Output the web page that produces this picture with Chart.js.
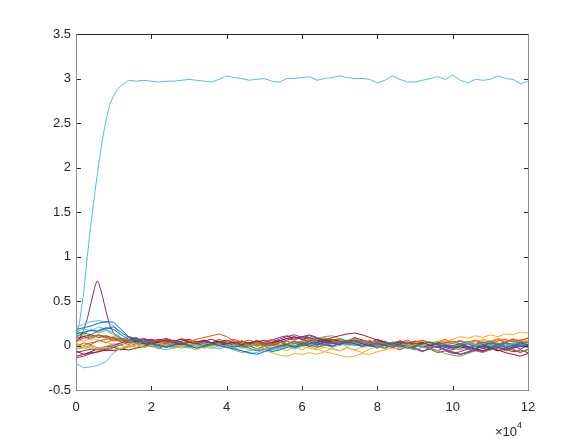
<!DOCTYPE html>
<html>
<head>
<meta charset="utf-8">
<script src="https://cdn.jsdelivr.net/npm/chart.js@4/dist/chart.umd.min.js"></script>
<style>
  html, body { margin: 0; padding: 0; background: #fff; }
  #wrap { width: 585px; height: 439px; }
</style>
</head>
<body>
<div id="wrap"><canvas id="grafica"></canvas></div>
<script>
// x in units of 1e4 (axis shows "x10^4")
const xs = [0,0.2,0.4,0.6,0.8,1,1.2,1.4,1.6,1.8,2,2.2,2.4,2.6,2.8,3,3.2,3.4,3.6,3.8,4,
  4.2,4.4,4.6,4.8,5,5.2,5.4,5.6,5.8,6,6.2,6.4,6.6,6.8,7,7.2,7.4,7.6,7.8,8,
  8.2,8.4,8.6,8.8,9,9.2,9.4,9.6,9.8,10,10.2,10.4,10.6,10.8,11,11.2,11.4,11.6,11.8,12];

const xTicks = [0, 2, 4, 6, 8, 10, 12];
const yTicks = [-0.5, 0, 0.5, 1, 1.5, 2, 2.5, 3, 3.5];

// rising line (light blue)
const rampX = [0,0.1,0.2,0.3,0.4,0.5,0.6,0.7,0.8,0.9,1,1.1,1.2,1.3,1.4];
const rampY = [0.05,0.28,0.58,1.0,1.38,1.72,2.03,2.31,2.54,2.71,2.81,2.88,2.92,2.95,2.98];
const topY = [2.97,2.98,2.97,2.96,2.97,2.97,2.98,2.99,2.98,2.97,
  2.96,2.99,3.03,3.01,3.00,2.98,2.99,3.00,2.97,2.96,
  3.00,3.00,3.01,3.02,2.98,3.00,3.01,3.03,3.01,3.00,
  3.00,2.99,2.95,2.98,3.03,2.99,2.96,2.96,2.98,3.00,
  3.02,2.99,3.04,2.98,2.95,2.99,2.98,2.99,3.03,3.00,
  2.99,2.94,2.97]; // xs from 1.6

// purple line with the early bump
const bumpX = [0,0.1,0.2,0.3,0.4,0.5,0.55,0.6,0.7,0.8,0.9,1,1.1,1.2];
const bumpY = [0.03,0.08,0.17,0.30,0.48,0.66,0.72,0.71,0.56,0.38,0.22,0.14,0.10,0.08];
const bumpLate = [0.06,0.04,0.07,0.05,
  0.02,0.04,0.01,0.03,0.00,0.02,0.05,0.03,0.01,-0.01,
  0.02,0.00,0.03,0.01,0.04,0.06,0.09,0.11,0.08,0.10,
  0.12,0.09,0.06,0.04,0.02,0.05,0.03,0.06,0.04,0.01,
  0.03,0.00,0.02,-0.01,0.01,0.03,0.00,-0.02,-0.05,-0.08,
  -0.10,-0.07,-0.04,-0.06,-0.03,-0.01,-0.04,-0.02,0.01,-0.01]; // xs from 1.4

// lines around zero
const azul1 = [0.18,0.20,0.22,0.25,0.27,0.26, 0.18,0.10,0.06,0.03,0.02,
  0.00,-0.02,0.01,0.03,0.00,-0.03,-0.01,0.02,0.00,-0.02,
  -0.04,-0.06,-0.08,-0.10,-0.07,-0.03,-0.01,0.01,-0.02,0.00,
  0.02,0.04,0.01,-0.01,0.03,0.06,0.05,0.02,0.00,-0.02,
  0.01,0.03,0.00,-0.03,-0.01,0.02,0.04,0.01,-0.02,0.00,
  0.02,-0.01,-0.03,0.00,0.03,0.01,-0.02,0.00,0.02,0.01];
const naranja1 = [0.05,0.08,0.10,0.12,0.10,0.08, 0.05,0.06,0.03,0.05,0.04,
  0.06,0.03,0.05,0.02,0.04,0.07,0.09,0.11,0.13,0.10,
  0.05,0.03,0.01,0.04,0.02,0.00,0.03,0.05,0.02,0.04,
  0.01,-0.02,0.00,0.03,0.05,0.02,0.04,0.06,0.03,0.01,
  0.04,0.02,0.05,0.03,0.00,0.02,0.04,0.01,0.03,0.05,
  0.02,0.04,0.06,0.03,0.05,0.02,0.04,0.07,0.05,0.03];
const amarillo1 = [0.02,-0.01,-0.03,-0.04,-0.02,-0.05, -0.03,-0.01,0.01,-0.02,0.00,
  0.02,0.04,0.01,-0.01,0.02,0.00,-0.03,-0.01,0.01,-0.02,
  -0.04,-0.02,-0.05,-0.03,-0.06,-0.08,-0.11,-0.12,-0.09,-0.10,
  -0.08,-0.10,-0.07,-0.09,-0.11,-0.13,-0.12,-0.09,-0.10,-0.07,
  -0.05,-0.03,-0.04,-0.01,0.01,0.00,0.03,0.05,0.04,0.07,
  0.10,0.08,0.11,0.09,0.12,0.10,0.13,0.12,0.15,0.14];
const morado1 = [-0.08,-0.06,-0.04,-0.05,-0.02,0.00, 0.03,0.06,0.08,0.05,0.07,
  0.04,0.06,0.03,0.01,0.04,0.02,0.05,0.03,0.00,0.02,
  0.04,0.01,0.03,0.05,0.02,0.04,0.07,0.10,0.12,0.09,
  0.11,0.08,0.05,0.03,0.01,0.04,0.02,-0.01,0.01,0.03,
  0.00,-0.02,0.01,-0.01,0.02,0.00,-0.03,-0.01,-0.04,-0.07,
  -0.10,-0.08,-0.05,-0.07,-0.04,-0.02,-0.05,-0.03,0.00,-0.02];
const verde1 = [0.10,0.12,0.09,0.11,0.08,0.10, 0.06,0.04,0.02,0.04,0.01,
  -0.01,0.02,0.00,-0.03,-0.01,0.01,-0.02,0.00,0.02,-0.01,
  0.01,0.03,0.00,0.02,-0.01,0.01,0.04,0.02,0.05,0.03,
  0.06,0.08,0.10,0.11,0.07,0.05,0.08,0.04,0.02,0.00,
  -0.02,0.01,-0.01,-0.03,-0.05,-0.02,-0.04,-0.06,-0.09,-0.11,
  -0.12,-0.09,-0.06,-0.08,-0.05,-0.03,-0.06,-0.04,-0.07,-0.05];
const celeste1 = [-0.20,-0.25,-0.24,-0.22,-0.18,-0.08, -0.03,-0.01,0.01,-0.02,0.00,
  -0.03,-0.05,-0.02,0.00,-0.03,-0.01,0.01,-0.02,-0.04,-0.01,
  -0.03,-0.06,-0.09,-0.08,-0.05,-0.02,-0.04,-0.01,-0.03,0.00,
  0.02,-0.01,0.01,-0.02,0.00,0.03,0.01,-0.01,0.02,0.04,
  0.01,0.03,0.00,-0.02,0.01,-0.01,-0.03,0.00,0.02,-0.01,
  0.01,0.03,0.00,0.02,0.04,0.01,-0.01,0.02,0.00,0.02];
const rojo1 = [-0.12,-0.10,-0.08,-0.07,-0.05,-0.06, -0.04,-0.05,-0.03,-0.01,0.02,
  0.04,0.06,0.03,0.05,0.07,0.04,0.06,0.03,0.05,0.02,
  0.04,0.01,0.03,0.05,0.02,0.00,0.03,0.06,0.09,0.07,
  0.05,0.08,0.06,0.09,0.11,0.13,0.14,0.12,0.09,0.06,
  0.04,0.02,0.05,0.03,0.01,0.03,0.00,-0.02,0.01,-0.01,
  -0.03,-0.01,-0.04,-0.06,-0.03,-0.05,-0.08,-0.10,-0.12,-0.09];
const azul2 = [0.13,0.15,0.17,0.16,0.19,0.21, 0.15,0.09,0.05,0.02,-0.01,
  0.01,-0.02,0.00,0.02,-0.01,-0.03,0.00,0.02,0.04,0.01,
  -0.02,0.00,-0.03,-0.06,-0.04,-0.07,-0.05,-0.02,0.00,0.02,
  -0.01,0.01,0.04,0.02,0.05,0.03,0.00,0.02,-0.01,0.01,
  0.03,0.00,0.02,0.04,0.01,-0.02,0.00,0.03,0.01,-0.02,
  0.00,0.02,-0.01,0.01,-0.02,0.00,0.03,0.01,-0.01,0.00];
const naranja2 = [0.02,0.00,0.03,0.05,0.07,0.09, 0.07,0.10,0.08,0.05,0.07,
  0.04,0.02,0.05,0.03,0.01,0.04,0.02,0.00,0.03,0.05,
  0.07,0.04,0.06,0.03,0.01,0.03,0.00,0.02,0.04,0.01,
  -0.01,0.02,0.00,0.03,0.01,0.04,0.06,0.03,0.05,0.02,
  0.00,0.03,0.05,0.02,0.04,0.06,0.03,0.01,0.04,0.02,
  0.05,0.03,0.01,0.04,0.02,0.05,0.07,0.04,0.06,0.08];
const amarillo2 = [0.07,0.05,0.08,0.06,0.04,0.01, 0.03,0.00,-0.02,0.01,-0.01,
  0.02,0.00,-0.03,-0.01,0.02,0.04,0.01,0.03,0.00,-0.02,
  0.01,0.03,0.00,0.02,-0.01,-0.03,-0.05,-0.02,-0.04,-0.01,
  -0.03,-0.05,-0.02,-0.04,-0.06,-0.03,-0.05,-0.02,0.00,-0.02,
  0.01,-0.01,0.02,0.00,0.03,0.05,0.02,0.04,0.06,0.03,
  0.05,0.02,0.04,0.07,0.05,0.08,0.06,0.04,0.07,0.05];
const rojo2 = [0.08,0.10,0.12,0.09,0.11,0.08, 0.06,0.03,0.05,0.02,0.04,
  0.06,0.08,0.05,0.07,0.04,0.02,0.05,0.07,0.04,0.06,
  0.03,0.05,0.02,0.04,0.06,0.03,0.05,0.08,0.10,0.07,
  0.09,0.06,0.04,0.07,0.05,0.03,0.06,0.04,0.02,0.05,
  0.03,0.01,0.04,0.02,0.05,0.03,0.00,0.02,-0.01,-0.03,
  0.00,-0.02,-0.04,-0.01,-0.03,-0.06,-0.04,-0.07,-0.05,-0.08];
const verde2 = [-0.04,-0.02,0.00,-0.03,-0.01,0.02, 0.00,-0.02,0.01,0.03,0.00,
  0.02,-0.01,0.01,0.04,0.02,0.05,0.03,0.00,0.02,0.04,
  0.01,-0.01,0.02,0.00,0.03,0.01,-0.02,0.00,0.03,0.05,
  0.07,0.05,0.08,0.06,0.03,0.01,0.04,0.02,0.00,0.03,
  0.01,0.04,0.02,0.00,-0.02,0.01,-0.01,0.02,0.00,-0.03,
  -0.05,-0.02,-0.04,-0.01,0.01,-0.02,0.00,0.03,0.01,-0.01];
const celeste2 = [0.20,0.24,0.27,0.28,0.26,0.22, 0.12,0.06,0.03,0.00,0.02,
  -0.01,0.01,-0.02,0.00,0.03,0.01,-0.01,0.02,0.00,-0.02,
  -0.05,-0.08,-0.06,-0.04,-0.07,-0.05,-0.02,0.00,-0.03,-0.01,
  0.01,-0.02,0.00,0.02,0.04,0.01,0.03,0.00,0.02,-0.01,
  0.01,0.03,0.05,0.02,0.00,-0.02,0.01,-0.01,0.02,0.00,
  -0.02,0.01,-0.01,0.02,0.00,-0.03,-0.01,0.01,-0.02,0.00];
const morado2 = [-0.14,-0.12,-0.09,-0.07,-0.04,-0.02, 0.01,0.04,0.06,0.08,0.05,
  0.07,0.04,0.06,0.03,0.05,0.02,0.00,0.03,0.01,0.04,
  0.02,0.00,0.03,0.01,-0.01,0.02,0.05,0.08,0.06,0.10,
  0.08,0.05,0.03,0.06,0.04,0.01,0.03,0.00,0.02,0.04,
  0.01,-0.01,0.02,0.00,-0.03,-0.06,-0.04,-0.08,-0.06,-0.09,
  -0.07,-0.04,-0.06,-0.03,-0.05,-0.02,0.00,-0.03,-0.01,0.01];
const azul3 = [0.10,0.14,0.12,0.17,0.20,0.18, 0.12,0.07,0.09,0.04,0.06,
  0.02,0.05,0.01,0.04,-0.01,0.02,0.05,0.01,0.03,-0.02,
  0.01,-0.03,0.00,-0.04,-0.01,-0.05,-0.02,0.01,-0.02,0.02,
  -0.01,0.03,0.00,0.04,0.01,0.05,0.02,-0.01,0.03,0.00,
  -0.03,0.01,-0.02,0.02,-0.01,0.03,0.00,0.04,0.01,-0.02,
  0.01,-0.03,0.00,0.03,-0.01,0.02,-0.02,0.01,0.04,0.00];
const naranja3 = [-0.02,0.03,0.01,0.06,0.03,0.07, 0.04,0.01,0.05,0.02,0.06,
  0.03,0.07,0.04,0.08,0.05,0.02,0.06,0.03,0.07,0.04,
  0.01,0.05,0.02,0.06,0.03,0.07,0.04,0.01,0.05,0.02,
  0.06,0.03,0.00,0.04,0.07,0.03,0.06,0.02,0.05,0.01,
  0.04,0.00,0.03,0.06,0.02,0.05,0.01,0.04,0.07,0.03,
  0.06,0.02,0.05,0.01,0.04,0.07,0.03,0.06,0.02,0.05];
const amarillo3 = [0.00,-0.04,-0.01,-0.06,-0.03,0.00, -0.04,0.01,-0.02,0.02,-0.01,
  -0.04,0.00,-0.03,0.01,-0.02,-0.05,-0.01,-0.04,0.00,-0.03,
  0.01,-0.02,0.02,-0.01,-0.04,0.00,-0.03,-0.06,-0.02,-0.05,
  -0.01,-0.04,-0.07,-0.03,-0.06,-0.02,-0.05,-0.08,-0.04,-0.01,
  -0.04,0.00,-0.03,0.01,-0.02,0.02,-0.01,0.03,0.00,0.04,
  0.01,0.05,0.02,0.06,0.03,0.07,0.04,0.08,0.05,0.09];
const morado3 = [0.06,0.10,0.07,0.12,0.09,0.05, 0.08,0.03,0.06,0.01,0.04,
  0.00,0.03,-0.01,0.02,0.05,0.01,0.04,0.00,0.03,-0.01,
  0.02,-0.02,0.01,0.04,0.00,0.03,0.06,0.02,0.05,0.01,
  0.04,0.00,0.03,-0.01,0.02,0.05,0.01,0.04,0.00,-0.03,
  0.01,-0.02,-0.05,-0.01,-0.04,-0.07,-0.03,-0.06,-0.02,-0.05,
  -0.01,-0.04,0.00,-0.03,0.01,-0.02,0.02,-0.01,-0.04,0.00];
const verde3 = [0.16,0.13,0.18,0.14,0.17,0.12, 0.08,0.05,0.08,0.03,0.06,
  0.02,0.05,0.01,0.04,0.00,0.03,-0.01,0.02,0.05,0.01,
  -0.02,0.02,-0.01,0.03,0.00,-0.03,0.01,-0.02,0.02,0.05,
  0.02,0.06,0.09,0.05,0.08,0.04,0.07,0.03,0.06,0.02,
  0.05,0.01,0.04,0.00,0.03,-0.01,0.02,-0.02,0.01,-0.03,
  0.00,0.03,-0.01,0.02,-0.02,0.01,0.04,0.00,0.03,-0.01];
const celeste3 = [0.15,0.19,0.16,0.21,0.18,0.14, 0.09,0.04,0.07,0.02,0.05,
  0.01,-0.02,0.02,-0.01,0.03,0.00,-0.03,0.01,-0.02,0.02,
  -0.01,0.03,0.00,-0.04,-0.01,-0.05,-0.02,0.01,-0.02,0.02,
  0.05,0.01,0.04,0.00,0.03,-0.01,0.02,0.05,0.01,0.04,
  0.00,0.03,-0.01,0.02,-0.02,0.01,0.04,0.00,0.03,-0.01,
  0.02,0.05,0.01,0.04,0.00,0.03,-0.01,0.02,0.05,0.01];
const rojo3 = [-0.06,-0.10,-0.07,-0.03,-0.06,-0.02, -0.05,-0.01,0.02,-0.02,0.01,
  -0.03,0.00,0.04,0.01,-0.02,0.02,-0.01,0.03,0.00,0.04,
  0.01,0.05,0.02,-0.01,0.03,0.00,0.04,0.01,0.05,0.02,
  0.06,0.03,0.07,0.04,0.08,0.05,0.09,0.06,0.03,0.07,
  0.04,0.01,0.05,0.02,-0.01,0.03,0.00,0.04,0.01,-0.02,
  0.02,-0.01,-0.04,0.00,-0.03,-0.06,-0.02,-0.05,-0.08,-0.04];

// matlab default colour order
const AZUL = '#0072BD', NARANJA = '#D95319', AMARILLO = '#EDB120', MORADO = '#7E2F8E',
      VERDE = '#77AC30', CELESTE = '#4DBEEE', ROJO = '#A2142F';

function pares(xv, yv) {
  return yv.map((y, i) => ({ x: xv[i], y: y }));
}

function serie(puntos, color) {
  return { data: puntos, borderColor: color, borderWidth: 1, showLine: true,
           pointRadius: 0, tension: 0, fill: false };
}

const lineasCero = [
  [azul1, AZUL], [naranja1, NARANJA], [amarillo1, AMARILLO], [morado1, MORADO],
  [verde1, VERDE], [celeste1, CELESTE], [rojo1, ROJO],
  [azul2, AZUL], [naranja2, NARANJA], [amarillo2, AMARILLO], [rojo2, ROJO],
  [verde2, VERDE], [celeste2, CELESTE], [morado2, MORADO],
  [azul3, AZUL], [naranja3, NARANJA], [amarillo3, AMARILLO], [morado3, MORADO],
  [verde3, VERDE], [celeste3, CELESTE], [rojo3, ROJO]
];

const datasets = [];
lineasCero.forEach(([vals, color]) => datasets.push(serie(pares(xs, vals), color)));
datasets.push(serie(pares(bumpX, bumpY).concat(pares(xs.slice(7), bumpLate)), MORADO));
datasets.push(serie(pares(rampX, rampY).concat(pares(xs.slice(8), topY)), CELESTE));

const FUENTE = '"Liberation Sans", Arial, Helvetica, sans-serif';

// box around the axes with inward ticks, like matlab
const cajaEjes = {
  id: 'cajaEjes',
  afterDatasetsDraw(chart) {
    const ctx = chart.ctx;
    const a = chart.chartArea;
    const sx = chart.scales.x, sy = chart.scales.y;
    const L = Math.round(a.left) + 0.5, R = Math.round(a.right) + 0.5;
    const T = Math.round(a.top) + 0.5, B = Math.round(a.bottom) + 0.5;
    const tk = 4.5;
    ctx.save();
    ctx.lineWidth = 1;
    ctx.strokeStyle = '#262626';
    ctx.beginPath();
    ctx.moveTo(L, T); ctx.lineTo(R, T);
    xTicks.forEach(v => {
      const px = Math.round(sx.getPixelForValue(v)) + 0.5;
      ctx.moveTo(px, B); ctx.lineTo(px, B - tk);
      ctx.moveTo(px, T); ctx.lineTo(px, T + tk);
    });
    yTicks.forEach(v => {
      const py = Math.round(sy.getPixelForValue(v)) + 0.5;
      ctx.moveTo(L, py); ctx.lineTo(L + tk, py);
      ctx.moveTo(R, py); ctx.lineTo(R - tk, py);
    });
    ctx.stroke();
    ctx.strokeStyle = '#8c8c8c';
    ctx.beginPath();
    ctx.moveTo(L, T); ctx.lineTo(L, B); ctx.lineTo(R, B); ctx.lineTo(R, T);
    ctx.stroke();
    // exponent label
    ctx.fillStyle = '#262626';
    ctx.textBaseline = 'alphabetic';
    ctx.textAlign = 'right';
    ctx.font = '13px ' + FUENTE;
    ctx.fillText('\u00d710', 517, 436);
    ctx.textAlign = 'left';
    ctx.font = '9px ' + FUENTE;
    ctx.fillText('4', 517, 428);
    ctx.restore();
  }
};

new Chart(document.getElementById('grafica').getContext('2d'), {
  type: 'scatter',
  data: { datasets: datasets },
  plugins: [cajaEjes],
  options: {
    responsive: true,
    maintainAspectRatio: false,
    animation: false,
    layout: { padding: { top: 34, right: 57, left: 0, bottom: 0 } },
    plugins: { legend: { display: false }, tooltip: { enabled: false } },
    scales: {
      x: {
        type: 'linear', min: 0, max: 12,
        afterBuildTicks: s => { s.ticks = xTicks.map(v => ({ value: v })); },
        afterFit: s => { s.height = 49; },
        grid: { display: false, drawTicks: false },
        border: { display: false },
        ticks: { padding: 10, color: '#262626', font: { size: 13, family: FUENTE },
                 maxRotation: 0, autoSkip: false, callback: v => String(v) }
      },
      y: {
        type: 'linear', min: -0.5, max: 3.5,
        afterBuildTicks: s => { s.ticks = yTicks.map(v => ({ value: v })); },
        afterFit: s => { s.width = 76; },
        grid: { display: false, drawTicks: false },
        border: { display: false },
        ticks: { padding: 5, color: '#262626', font: { size: 13, family: FUENTE },
                 autoSkip: false, callback: v => String(v) }
      }
    }
  }
});
</script>
</body>
</html>
